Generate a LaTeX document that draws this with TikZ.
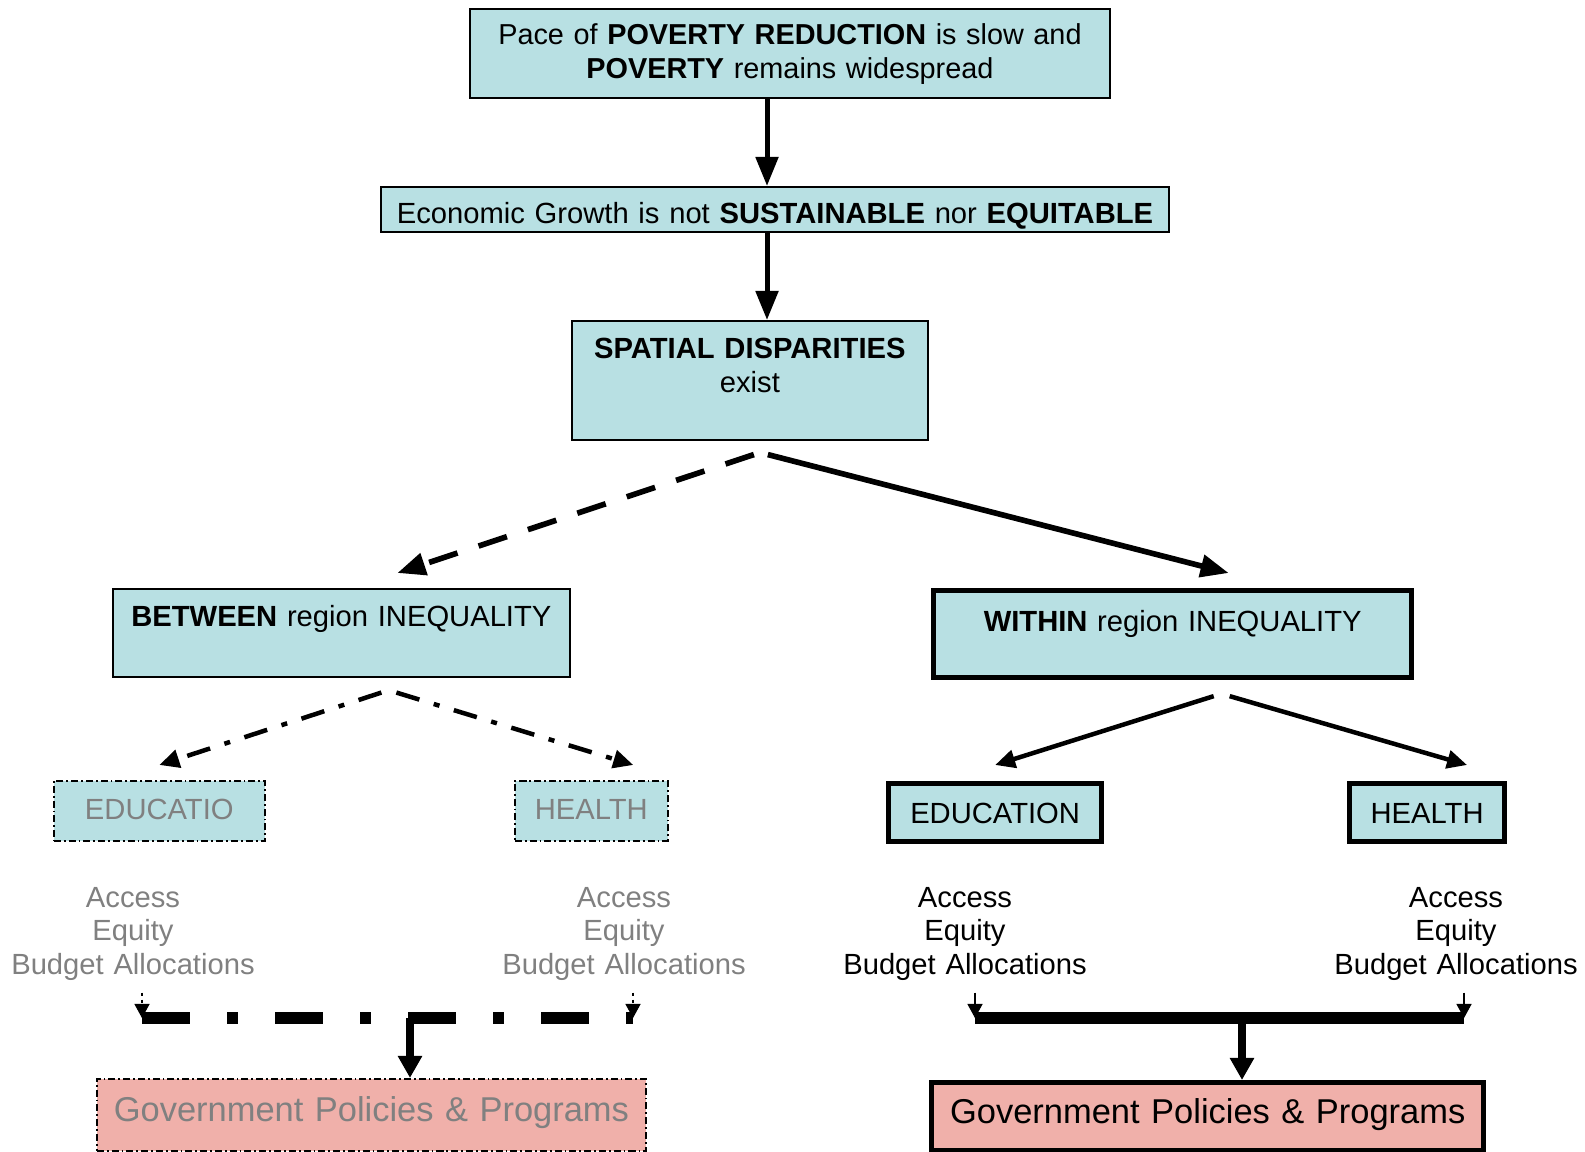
\documentclass[tikz,border=0pt]{standalone}
\usepackage{fontspec}
\setmainfont{Liberation Sans}
\usetikzlibrary{arrows.meta}

\definecolor{boxblue}{RGB}{184,224,227}
\definecolor{boxpink}{RGB}{240,176,170}
\definecolor{fadetxt}{RGB}{128,128,128}

\begin{document}
\begin{tikzpicture}[x=0.01cm,y=-0.01cm,
    box/.style={draw, fill=boxblue, line width=0.43pt, inner sep=0pt, align=center, anchor=north west, font=\fontsize{8.3pt}{9.7pt}\selectfont},
    heavy/.style={line width=1.45pt},
    faded/.style={dash pattern=on 2pt off 0.85pt on 0.5pt off 0.85pt, text=fadetxt},
    govbox/.style={box, fill=boxpink, font=\fontsize{9.8pt}{11pt}\selectfont},
    items/.style={align=center, text width=2.6cm, anchor=base, font=\fontsize{8.3pt}{9.53pt}\selectfont},
    down/.style={line width=1.42pt, -{Triangle[length=8.25pt,width=6.26pt]}},
    split/.style={line width=1.6pt, -{Triangle[length=8pt,width=6.26pt]}},
    branch/.style={line width=1.28pt, -{Triangle[length=5.7pt,width=5.1pt]}},
    dotdash/.style={dash pattern=on 6.83pt off 4.27pt on 1.71pt off 4.27pt},
    feed/.style={line width=0.3pt, -{Triangle[length=4pt,width=4.3pt]}},
    bar/.style={line width=3.41pt},
    stem/.style={line width=2.28pt, -{Triangle[length=6.26pt,width=6.54pt]}}]
    \useasboundingbox (0,0) rectangle (1585,1152);

    \node[box, font=\fontsize{8.2pt}{9.7pt}\selectfont, text width=6.40cm, text height=0.36cm, text depth=0.53cm] (poverty) at (469,8)
        {Pace of \textbf{POVERTY REDUCTION} is slow and\\\textbf{POVERTY} remains widespread};
    \node[box, text width=7.88cm, text height=0.37cm, text depth=0.08cm] (growth) at (380,186)
        {Economic Growth is not \textbf{SUSTAINABLE} nor \textbf{EQUITABLE}};
    \node[box, text width=3.56cm, text height=0.38cm, text depth=0.81cm] (spatial) at (571,320)
        {\textbf{SPATIAL DISPARITIES}\\exist};
    \node[box, text width=4.57cm, text height=0.38cm, text depth=0.50cm] (between) at (112,588)
        {\textbf{BETWEEN} region INEQUALITY};
    \node[box, heavy, text width=4.78cm, text height=0.41cm, text depth=0.46cm] (within) at (931,588)
        {\textbf{WITHIN} region INEQUALITY};

    \node[box, faded, text width=2.11cm, text height=0.39cm, text depth=0.21cm] (gedu) at (53,780) {EDUCATIO};
    \node[box, faded, text width=1.53cm, text height=0.39cm, text depth=0.21cm] (ghea) at (514,780) {HEALTH};
    \node[box, heavy, text width=2.13cm, text height=0.40cm, text depth=0.18cm] (edu) at (886,781) {EDUCATION};
    \node[box, heavy, text width=1.55cm, text height=0.40cm, text depth=0.18cm] (hea) at (1347,781) {HEALTH};

    \node[items, text=fadetxt] (gedu-items) at (133,907) {Access\\Equity\\Budget Allocations};
    \node[items, text=fadetxt] (ghea-items) at (624,907) {Access\\Equity\\Budget Allocations};
    \node[items] (edu-items) at (965,907) {Access\\Equity\\Budget Allocations};
    \node[items] (hea-items) at (1456,907) {Access\\Equity\\Budget Allocations};

    \node[govbox, faded, text width=5.49cm, text height=0.43cm, text depth=0.29cm] (lgov) at (96,1078)
        {Government Policies \& Programs};
    \node[govbox, heavy, text width=5.52cm, text height=0.41cm, text depth=0.27cm] (rgov) at (929,1080)
        {Government Policies \& Programs};

    \coordinate (spine) at (767,0);
    \draw[down] (poverty.south -| spine) -- (growth.north -| spine);
    \draw[down] (growth.south -| spine) -- (spatial.north -| spine);

    \draw[split, dash pattern=on 8.5pt off 6.3pt] ([shift={(4,14)}]spatial.south) -- ([shift={(56,-15)}]between.north);
    \draw[split] ([shift={(18,14)}]spatial.south) -- ([shift={(56,-15)}]within.north);

    \draw[branch, dotdash] ([shift={(40,15)}]between.south) -- ([shift={(0,-15)}]gedu.north);
    \draw[branch, dotdash] ([shift={(55,15)}]between.south) -- ([shift={(42,-15)}]ghea.north);
    \draw[branch] ([shift={(41,16)}]within.south) -- ([shift={(0,-16)}]edu.north);
    \draw[branch] ([shift={(57,16)}]within.south) -- ([shift={(40,-16)}]hea.north);

    \coordinate (lbar-w) at (142,1018);
    \coordinate (lbar-m) at (410,1018);
    \coordinate (lbar-e) at (633,1018);
    \coordinate (rbar-w) at (975,1018);
    \coordinate (rbar-m) at (1242,1018);
    \coordinate (rbar-e) at (1464,1018);

    \draw[feed, dash pattern=on 1.1pt off 0.9pt] (gedu-items.south -| lbar-w) -- (lbar-w);
    \draw[feed, dash pattern=on 1.1pt off 0.9pt] (ghea-items.south -| lbar-e) -- (lbar-e);
    \draw[feed] (edu-items.south -| rbar-w) -- (rbar-w);
    \draw[feed] (hea-items.south -| rbar-e) -- (rbar-e);

    \draw[bar, dash pattern=on 13.66pt off 10.53pt on 3.13pt off 10.53pt] (lbar-w) -- (lbar-e);
    \draw[stem] (lbar-m) -- (lgov.north -| lbar-m);
    \draw[bar] (rbar-w) -- (rbar-e);
    \draw[stem] (rbar-m) -- (rgov.north -| rbar-m);
\end{tikzpicture}
\end{document}
